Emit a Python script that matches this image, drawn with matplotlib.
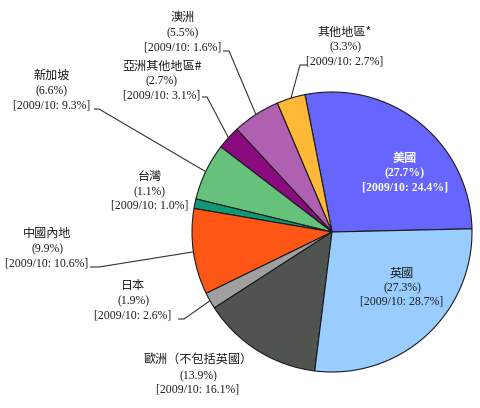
import numpy as np
import matplotlib
matplotlib.use("Agg")
import matplotlib.pyplot as plt

labels = ['美國', '其他地區*', '澳洲', '亞洲其他地區#', '新加坡', '台灣',
          '中國內地', '日本', '歐洲（不包括英國）', '英國']
shares = [27.7, 3.3, 5.5, 2.7, 6.6, 1.1, 9.9, 1.9, 13.9, 27.3]
prev = [24.4, 2.7, 1.6, 3.1, 9.3, 1.0, 10.6, 2.6, 16.1, 28.7]
colors = ['#6666FF', '#FFB838', '#B060B0', '#8B0A7F', '#66C27A', '#119977',
          '#FF5515', '#A0A0A0', '#4F5450', '#99CCFF']

W, H = 480, 408
fig = plt.figure(figsize=(W / 100, H / 100), dpi=100)
ax = fig.add_axes([0, 0, 1, 1])

cx, cy, R = 332, H - 232, 140
wedges, _ = ax.pie(shares, colors=colors, startangle=1.3, counterclock=True,
                   center=(cx, cy), radius=R, frame=True,
                   wedgeprops=dict(edgecolor='#1a1a1a', linewidth=0.8))
ax.set_xlim(0, W)
ax.set_ylim(0, H)
ax.axis('off')

# label layout: (center x, y of three lines top-down in pixel coords), text colour, bold, leader
layout = {
    '美國': (405, (158, 173, 187), 'white', True, None),
    '其他地區*': (345, (32, 47, 61), '#1a1a1a', False, ((307, 65), (300, 65))),
    '澳洲': (183, (17, 33, 48), '#1a1a1a', False, ((223, 51), (229, 51))),
    '亞洲其他地區#': (162, (66, 81, 95), '#1a1a1a', False, ((202, 97), (207, 97))),
    '新加坡': (52, (75, 91, 105), '#1a1a1a', False, ((94, 109), (99, 109))),
    '台灣': (150, (176, 192, 205), '#1a1a1a', False, None),
    '中國內地': (47, (233, 249, 263), '#1a1a1a', False, ((90, 267), (99, 267))),
    '日本': (133, (286, 301, 316), '#1a1a1a', False, ((178, 319), (184, 319))),
    '歐洲（不包括英國）': (198, (360, 376, 390), '#1a1a1a', False, None),
    '英國': (402, (273, 288, 302), '#1a1a1a', False, None),
}

cjk = ['Noto Sans CJK TC', 'DejaVu Sans']
serif = ['Liberation Serif', 'DejaVu Serif']

for lab, s, p, w in zip(labels, shares, prev, wedges):
    x, ys, col, bold, leader = layout[lab]
    fw = 'bold' if bold else 'normal'
    ax.text(x, H - ys[0], lab, ha='center', va='center', fontsize=8.7,
            family=cjk, color=col, fontweight=fw)
    ax.text(x, H - ys[1], f'({s}%)', ha='center', va='center', fontsize=8.5,
            family=serif, color=col, fontweight=fw)
    ax.text(x, H - ys[2], f'[2009/10: {p}%]', ha='center', va='center',
            fontsize=8.5, family=serif, color=col, fontweight=fw)
    if leader is not None:
        mid = np.deg2rad((w.theta1 + w.theta2) / 2)
        ex, ey = cx + R * np.cos(mid), cy + R * np.sin(mid)
        (x0, y0), (x1, y1) = leader
        ax.plot([x0, x1, ex], [H - y0, H - y1, ey], color='#333333', lw=0.8,
                solid_capstyle='butt')

fig.savefig('out.png', dpi=100, facecolor='white')
